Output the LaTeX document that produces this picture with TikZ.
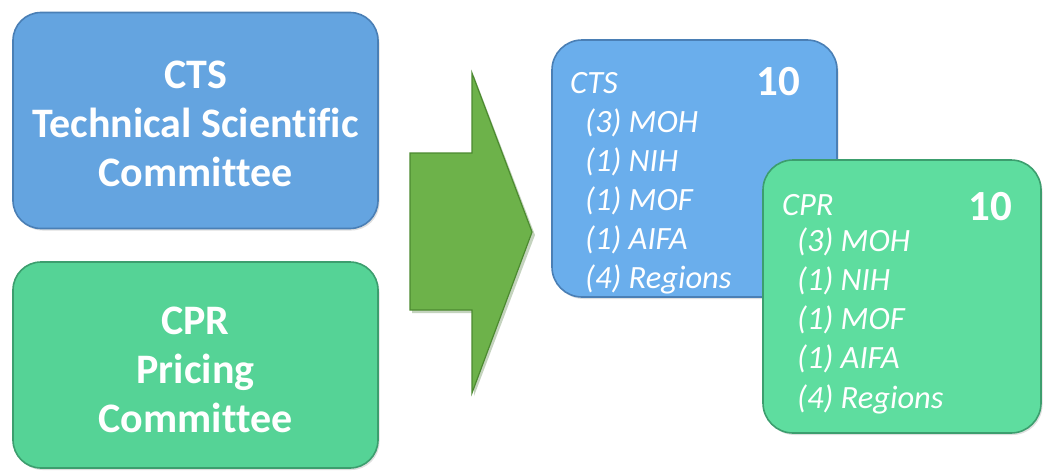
\documentclass[tikz,border=0pt]{standalone}
\usepackage{fontspec}
\setmainfont{Carlito}[Ligatures=NoCommon]
\usetikzlibrary{shadows}
\definecolor{bluebox}{HTML}{64A4E0}
\definecolor{blueedge}{HTML}{4A7FB5}
\definecolor{blueboxs}{HTML}{6AAEEC}
\definecolor{greenbox}{HTML}{55D396}
\definecolor{greenedge}{HTML}{3C9E6E}
\definecolor{greenboxs}{HTML}{5EDD9F}
\definecolor{arrowgreen}{HTML}{6DB24A}
\definecolor{arrowedge}{HTML}{4C8A30}
\tikzset{
  bigbox/.style={rounded corners=28pt, line width=1.6pt, minimum width=365pt, inner sep=0pt, drop shadow={opacity=0.25, shadow xshift=1.5pt, shadow yshift=-2pt}},
  smallbox/.style={rounded corners=30pt, line width=1.6pt, inner sep=0pt, drop shadow={opacity=0.25, shadow xshift=1.5pt, shadow yshift=-2pt}},
  bigtxt/.style={text=white, font=\fontsize{42}{49}\selectfont\bfseries, align=center, inner sep=0pt},
  listtxt/.style={text=white, font=\fontsize{32.5}{39}\selectfont\itshape, inner sep=0pt, anchor=base west},
  numtxt/.style={text=white, font=\fontsize{43}{45}\selectfont\bfseries, inner sep=0pt, anchor=base},
}
\begin{document}
\begin{tikzpicture}[x=1pt,y=-1pt]
\useasboundingbox (0,0) rectangle (1043,471);
% left boxes
\node[bigbox, fill=bluebox, draw=blueedge, minimum height=216pt] (cts) at (195.5,120.5) {};
\node[bigtxt] (ctstxt) at (195.5,124) {CTS\\Technical Scientific\\Committee};
\node[bigbox, fill=greenbox, draw=greenedge, minimum height=206pt] (cpr) at (195.5,365) {};
\node[bigtxt] (cprtxt) at (195.5,370) {CPR\\Pricing\\Committee};
% arrow
\fill[arrowedge!80!black, opacity=0.3] (412,156) -- (474,156) -- (474,76) -- (535,235) -- (474,396) -- (474,313) -- (412,313) -- cycle;
\draw[fill=arrowgreen, draw=arrowedge, line width=1.2pt, line join=miter] (410,153) -- (472,153) -- (472,73) -- (532,232) -- (472,393) -- (472,310) -- (410,310) -- cycle;
% right small boxes
\node[smallbox, fill=blueboxs, draw=blueedge, minimum width=285pt, minimum height=257pt] (ctsr) at (694.5,168.5) {};
\node[listtxt] (ctsrt) at (570,93) {CTS};
\node[numtxt] (ctsrn) at (778,95) {10};
\foreach \t [count=\i] in {(3) MOH,(1) NIH,(1) MOF,(1) AIFA,(4) Regions}
  \node[listtxt] (ctsl\i) at (585,93+39*\i) {\t};
\node[smallbox, fill=greenboxs, draw=greenedge, minimum width=278pt, minimum height=273pt] (cprr) at (902,296.5) {};
\node[listtxt] (cprrt) at (782,215) {CPR};
\node[numtxt] (cprrn) at (990,220) {10};
\foreach \t [count=\i] in {(3) MOH,(1) NIH,(1) MOF,(1) AIFA,(4) Regions}
  \node[listtxt] (cprl\i) at (797,212+39.2*\i) {\t};
\end{tikzpicture}
\end{document}
